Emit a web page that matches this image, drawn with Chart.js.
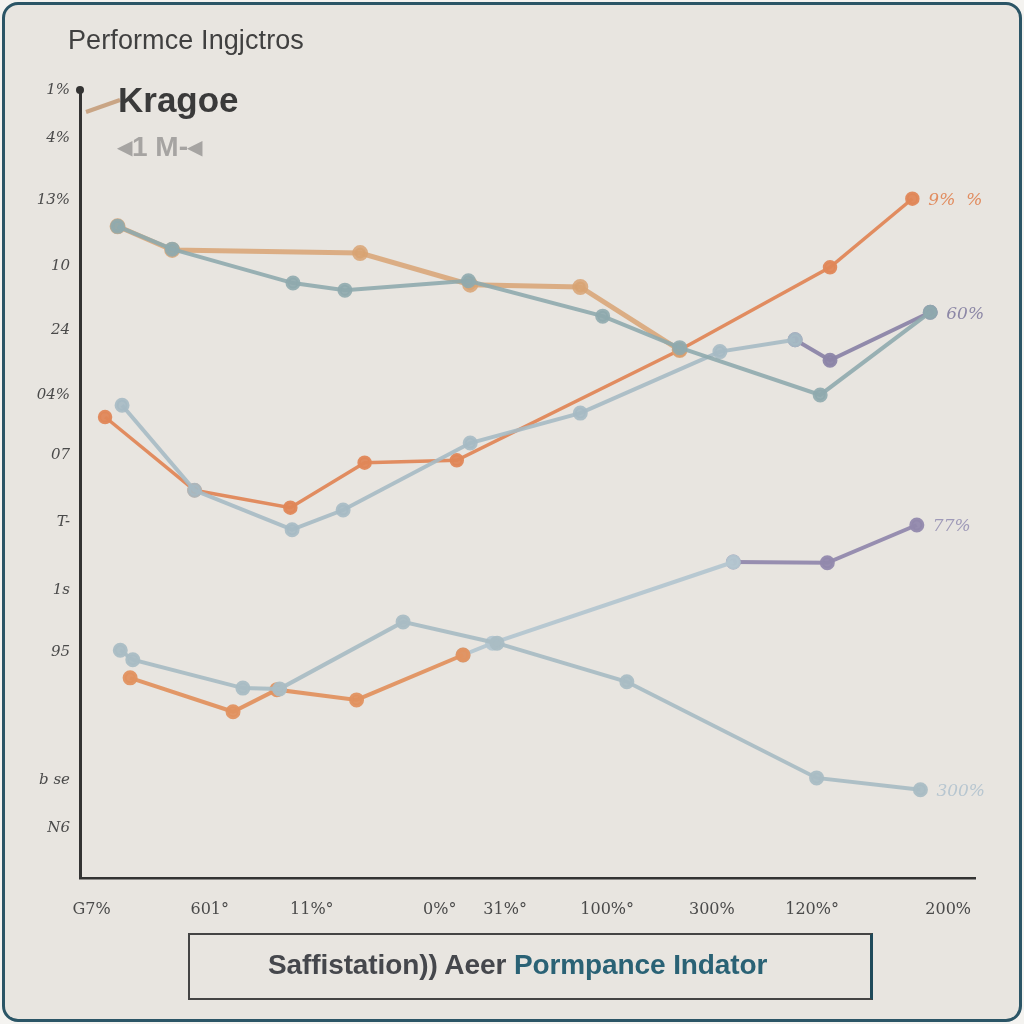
<!DOCTYPE html>
<html>
<head>
<meta charset="utf-8">
<script src="https://cdn.jsdelivr.net/npm/chart.js@4"></script>
<style>
  html, body { margin: 0; padding: 0; background: #f4f3f0; }
  #card {
    position: absolute; left: 2px; top: 2px; width: 1014px; height: 1014px;
    border: 3px solid #2b5566; border-radius: 16px; background: #e8e5e0; overflow: hidden;
  }
  #chart { position: absolute; left: -5px; top: -5px; }
  .txt { position: absolute; font-family: 'Liberation Sans', Arial, sans-serif; white-space: nowrap; }
  #title { left: 63px; top: 20px; font-size: 27px; color: #404040; letter-spacing: 0.1px; }
  #leg1 { left: 113px; top: 75px; font-size: 35px; font-weight: bold; color: #3a3a3a; }
  #leg2 { left: 113px; top: 125px; font-size: 28px; font-weight: bold; color: #a6a4a2; }
  #footer {
    position: absolute; left: 183px; top: 928px; width: 680px; height: 63px;
    border: 2px solid #444; border-right: 3px solid #1f4a5a;
  }
  #footer span.a { color: #45474c; }
  #footer span.b { color: #2a6275; }
  #ftxt { left: 78px; top: 14px; font-size: 28px; font-weight: 600; letter-spacing: -0.1px; }
</style>
</head>
<body>
<div id="card">
  <canvas id="chart" width="1024" height="1024"></canvas>
  <div class="txt" id="title">Performce Ingjctros</div>
  <div class="txt" id="leg1">Kragoe</div>
  <div class="txt" id="leg2">◂1 M-◂</div>
  <div id="footer"><div class="txt" id="ftxt"><span class="a">Saffistation)) Aeer </span><span class="b">Pormpance Indator</span></div></div>
</div>
<script>
// axis ticks (positions in data units) and their labels as read
const xTickPos = [1.3, 14.5, 25.9, 40.2, 47.5, 58.9, 70.6, 81.8, 97.0];
const xTickLabels = ['G7%', '601°', '11%°', '0%°', '31%°', '100%°', '300%', '120%°', '200%'];
const yTickPos = [100, 93.9, 86.0, 77.7, 69.5, 61.3, 53.7, 45.2, 36.5, 28.7, 12.4, 6.3];
const yTickLabels = ['1%', '4%', '13%', '10', '24', '04%', '07', 'T-', '1s', '95', 'b se', 'N6'];

// series (x, y pairs)
const tealX = [4.2, 10.3, 23.8, 29.6, 43.4, 58.4, 67.0, 82.7, 95.0];
const tealY = [82.7, 79.8, 75.5, 74.6, 75.8, 71.3, 67.3, 61.3, 71.8];
const tanX = [4.2, 10.3, 31.3, 43.6, 55.9, 67.0];
const tanY = [82.7, 79.7, 79.3, 75.3, 75.0, 67.0];
const orangeX = [2.8, 12.8, 23.5, 31.8, 42.1, 67.0, 83.8, 93.0];
const orangeY = [58.5, 49.2, 47.0, 52.7, 53.0, 67.0, 77.5, 86.2];
const slateX = [4.7, 12.8, 23.7, 29.4, 43.6, 55.9, 71.5, 79.9];
const slateY = [60.0, 49.2, 44.2, 46.7, 55.2, 59.0, 66.8, 68.3];
const purpleX = [79.9, 83.8, 95.0];
const purpleY = [68.3, 65.7, 71.8];
const lowTealX = [4.5, 5.9, 18.2, 22.3, 36.1, 46.6, 61.1, 82.3, 93.9];
const lowTealY = [28.9, 27.7, 24.1, 24.0, 32.5, 29.8, 24.9, 12.7, 11.2];
const lowOrangeX = [5.6, 17.1, 22.0, 30.9, 42.8];
const lowOrangeY = [25.4, 21.1, 23.9, 22.6, 28.3];
const lowBlueX = [42.8, 46.1, 73.0];
const lowBlueY = [28.3, 29.8, 40.1];
const lowPurpleX = [73.0, 83.5, 93.5];
const lowPurpleY = [40.1, 40.0, 44.8];

const endLabels = { orange: '9%  %', purple: '60%', lowPurple: '77%', lowTeal: '300%' };

function pts(xs, ys) { return xs.map((x, i) => ({ x: x, y: ys[i] })); }

function series(key, xs, ys, color, width) {
    return {
        key: key,
        data: pts(xs, ys),
        showLine: true,
        borderColor: color,
        backgroundColor: color,
        borderWidth: width || 4,
        pointRadius: 5.5,
        pointHoverRadius: 5.5,
        tension: 0
    };
}

const endLabelPlugin = {
    id: 'endLabels',
    afterDatasetsDraw(chart) {
        const ctx = chart.ctx;
        ctx.save();
        chart.data.datasets.forEach((ds, i) => {
            const text = endLabels[ds.key];
            if (!text) return;
            const meta = chart.getDatasetMeta(i);
            const last = meta.data[meta.data.length - 1];
            ctx.font = 'italic 17px "DejaVu Serif", serif';
            ctx.fillStyle = ds.labelColor || ds.borderColor;
            ctx.textBaseline = 'middle';
            ctx.fillText(text, last.x + 16, last.y + 2);
        });
        // dot at top of y axis and little pointer arrow
        const a = chart.chartArea;
        ctx.fillStyle = '#333';
        ctx.beginPath();
        ctx.arc(a.left, a.top, 4, 0, Math.PI * 2);
        ctx.fill();
        ctx.strokeStyle = '#c9a585';
        ctx.lineWidth = 4;
        ctx.beginPath();
        ctx.moveTo(a.left + 6, a.top + 22);
        ctx.lineTo(a.left + 40, a.top + 10);
        ctx.stroke();
        ctx.restore();
    }
};

const datasets = [
    series('teal', tealX, tealY, 'rgba(143,170,174,0.9)'),
    series('tan', tanX, tanY, 'rgba(216,163,115,0.85)', 5),
    series('slate', slateX, slateY, 'rgba(166,186,196,0.9)'),
    series('orange', orangeX, orangeY, 'rgba(224,135,88,0.95)', 3.5),
    series('purple', purpleX, purpleY, 'rgba(140,133,168,0.95)'),
    series('lowTeal', lowTealX, lowTealY, 'rgba(170,189,196,0.95)'),
    series('lowOrange', lowOrangeX, lowOrangeY, 'rgba(226,146,96,0.95)'),
    series('lowBlue', lowBlueX, lowBlueY, 'rgba(180,198,208,0.95)'),
    series('lowPurple', lowPurpleX, lowPurpleY, 'rgba(146,137,173,0.95)')
];
datasets[5].labelColor = '#b7c6d0';
datasets[8].labelColor = '#9f9ab8';
datasets[4].labelColor = '#8c87a6';

new Chart(document.getElementById('chart'), {
    type: 'scatter',
    data: { datasets: datasets },
    options: {
        responsive: false,
        animation: false,
        layout: { padding: { left: 0, top: 90, right: 49, bottom: 96 } },
        plugins: { legend: { display: false }, tooltip: { enabled: false } },
        scales: {
            x: {
                type: 'linear', min: 0, max: 100,
                afterBuildTicks: s => { s.ticks = xTickPos.map(v => ({ value: v })); },
                afterFit: s => { s.height = 50; },
                grid: { display: false, drawTicks: false },
                border: { display: true, color: '#333', width: 2.5 },
                ticks: {
                    padding: 22,
                    maxRotation: 0, autoSkip: false,
                    color: '#4a4a4a',
                    font: { family: '"DejaVu Serif", serif', size: 16 },
                    callback: (v) => xTickLabels[xTickPos.indexOf(v)]
                }
            },
            y: {
                type: 'linear', min: 0, max: 100,
                afterBuildTicks: s => { s.ticks = yTickPos.map(v => ({ value: v })); },
                afterFit: s => { s.width = 80; },
                grid: { display: false, drawTicks: false },
                border: { display: true, color: '#333', width: 3 },
                ticks: {
                    padding: 10,
                    autoSkip: false,
                    color: '#4a4a4a',
                    font: { family: '"DejaVu Serif", serif', size: 15, style: 'italic' },
                    callback: (v) => yTickLabels[yTickPos.indexOf(v)]
                }
            }
        }
    },
    plugins: [endLabelPlugin]
});
</script>
</body>
</html>
